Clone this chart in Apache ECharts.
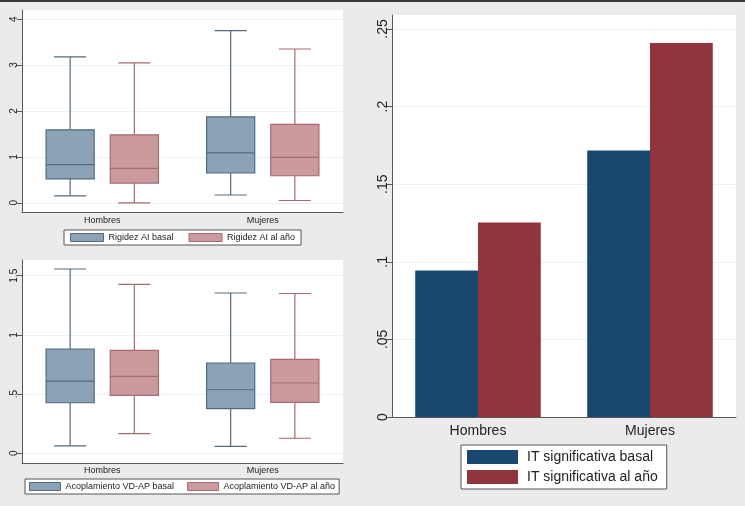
<!DOCTYPE html>
<html><head><meta charset="utf-8">
<script src="https://cdn.jsdelivr.net/npm/echarts@6/dist/echarts.min.js"></script>
<style>html,body{margin:0;padding:0;background:#ebebeb}#c{width:745px;height:506px}</style>
</head><body><div id="c"></div>
<script>
// ---- data ----
const categories = ['Hombres', 'Mujeres'];
// box values: [min, Q1, median, Q3, max]
const rigidezBasal = [[0.15, 0.52, 0.83, 1.59, 3.18], [0.17, 0.65, 1.09, 1.87, 3.75]];
const rigidezAno   = [[0.00, 0.43, 0.75, 1.48, 3.05], [0.05, 0.59, 0.99, 1.71, 3.35]];
const acoplBasal   = [[0.062, 0.427, 0.61, 0.881, 1.557], [0.059, 0.377, 0.537, 0.763, 1.354]];
const acoplAno     = [[0.166, 0.49, 0.65, 0.87, 1.427], [0.127, 0.431, 0.594, 0.794, 1.35]];
const itBasal = [0.0944, 0.1717];
const itAno   = [0.1253, 0.2410];
const rigidezTicks = [0, 1, 2, 3, 4];
const acoplTicks   = [0, 0.5, 1, 1.5];
const itTicks      = [0, 0.05, 0.1, 0.15, 0.2, 0.25];

// ---- styling ----
const FONT = "'Liberation Sans', Arial, Helvetica, sans-serif";
const blueFill = '#8ca3b7', blueStroke = '#536a7f';
const pinkFill = '#cb9a9e', pinkStroke = '#a66a70';
const navy = '#1a476f', maroon = '#90353b';
const axisCol = '#5a5a5a', txtCol = '#222', gridCol = '#edf0f1';

const fmt = v => { const s = String(Math.round(v * 1000) / 1000); return s.replace(/^0\./, '.'); };
const toBoxData = arr => arr.map((b, i) => [i].concat(b));

function boxRender(offsetFrac, fill, stroke) {
  return function (params, api) {
    const cat = api.value(0);
    const band = api.size([1, 0])[0];
    const cx = api.coord([cat, 0])[0] + offsetFrac * band;
    const w = 0.3 * band, capH = 0.1 * band;
    const y = i => api.coord([cat, api.value(i)])[1];
    const yMin = y(1), yQ1 = y(2), yMed = y(3), yQ3 = y(4), yMax = y(5);
    const ls = { stroke: stroke, lineWidth: 1.2, fill: null };
    return { type: 'group', children: [
      { type: 'line', shape: { x1: cx, y1: yMax, x2: cx, y2: yQ3 }, style: ls },
      { type: 'line', shape: { x1: cx, y1: yQ1, x2: cx, y2: yMin }, style: ls },
      { type: 'line', shape: { x1: cx - capH, y1: yMax, x2: cx + capH, y2: yMax }, style: ls },
      { type: 'line', shape: { x1: cx - capH, y1: yMin, x2: cx + capH, y2: yMin }, style: ls },
      { type: 'rect', shape: { x: cx - w / 2, y: yQ3, width: w, height: yQ1 - yQ3 }, style: { fill: fill, stroke: stroke, lineWidth: 1.2 } },
      { type: 'line', shape: { x1: cx - w / 2, y1: yMed, x2: cx + w / 2, y2: yMed }, style: ls }
    ]};
  };
}

function boxSeries(name, data, idx, off, fill, stroke) {
  return {
    name: name, type: 'custom', xAxisIndex: idx, yAxisIndex: idx,
    renderItem: boxRender(off, fill, stroke),
    encode: { x: 0, y: [1, 2, 3, 4, 5] },
    itemStyle: { color: fill },
    data: toBoxData(data)
  };
}

function xAx(idx, fontSize, margin) {
  return {
    type: 'category', gridIndex: idx, data: categories,
    axisTick: { show: false },
    axisLine: { show: true, onZero: false, lineStyle: { color: axisCol, width: 1 } },
    axisLabel: { fontSize: fontSize, color: txtCol, margin: margin, fontFamily: FONT }
  };
}
function yAx(idx, min, max, ticks, fontSize, tickLen, margin) {
  return {
    type: 'value', gridIndex: idx, min: min, max: max,
    axisLine: { show: true, onZero: false, lineStyle: { color: axisCol, width: 1 } },
    axisTick: { show: true, length: tickLen, customValues: ticks, lineStyle: { color: axisCol } },
    axisLabel: { rotate: 90, fontSize: fontSize, color: txtCol, margin: margin, fontFamily: FONT, formatter: fmt, customValues: ticks },
    splitLine: { show: true, lineStyle: { color: gridCol, width: 1 } }
  };
}

const legendItem = (name, fill, stroke) => ({ name: name, icon: 'rect', itemStyle: { color: fill, borderColor: stroke, borderWidth: 1 } });

const chart = echarts.init(document.getElementById('c'));
chart.setOption({
  animation: false,
  backgroundColor: '#ebebeb',
  textStyle: { fontFamily: FONT },
  graphic: [{ type: 'rect', shape: { x: 0, y: 0, width: 745, height: 2 }, style: { fill: '#3a3a3a' }, silent: true }],
  grid: [
    { left: 22, top: 10, width: 321, height: 202, show: true, backgroundColor: '#fff', borderWidth: 0 },
    { left: 22, top: 260, width: 321, height: 203, show: true, backgroundColor: '#fff', borderWidth: 0 },
    { left: 392, top: 15, width: 344, height: 402, show: true, backgroundColor: '#fff', borderWidth: 0 }
  ],
  xAxis: [xAx(0, 9, 4), xAx(1, 9, 3), xAx(2, 14, 7)],
  yAxis: [
    yAx(0, -0.2, 4.2, rigidezTicks, 10, 5, 3),
    yAx(1, -0.082, 1.633, acoplTicks, 10, 5, 3),
    yAx(2, 0, 0.259, itTicks, 14, 6, 2)
  ],
  legend: [
    { left: 64, top: 230, selectedMode: false, itemWidth: 33, itemHeight: 8, itemGap: 15, padding: [3, 6],
      borderColor: '#555', borderWidth: 1, backgroundColor: '#fff', borderRadius: 0,
      textStyle: { fontSize: 9, color: txtCol, fontFamily: FONT },
      data: [legendItem('Rigidez AI basal', blueFill, blueStroke), legendItem('Rigidez AI al año', pinkFill, pinkStroke)] },
    { left: 25, top: 479, selectedMode: false, itemWidth: 31, itemHeight: 8, itemGap: 13, padding: [3, 4],
      borderColor: '#555', borderWidth: 1, backgroundColor: '#fff', borderRadius: 0,
      textStyle: { fontSize: 9, color: txtCol, fontFamily: FONT },
      data: [legendItem('Acoplamiento VD-AP basal', blueFill, blueStroke), legendItem('Acoplamiento VD-AP al año', pinkFill, pinkStroke)] },
    { left: 461, top: 445, orient: 'vertical', selectedMode: false, itemWidth: 51, itemHeight: 14, itemGap: 4, padding: [4, 9, 4, 6],
      borderColor: '#555', borderWidth: 1, backgroundColor: '#fff', borderRadius: 0,
      textStyle: { fontSize: 14, color: txtCol, fontFamily: FONT, lineHeight: 16, padding: [0, 0, 0, 4] },
      data: [{ name: 'IT significativa basal', icon: 'rect', itemStyle: { color: navy } },
             { name: 'IT significativa al año', icon: 'rect', itemStyle: { color: maroon } }] }
  ],
  series: [
    boxSeries('Rigidez AI basal', rigidezBasal, 0, -0.2, blueFill, blueStroke),
    boxSeries('Rigidez AI al año', rigidezAno, 0, 0.2, pinkFill, pinkStroke),
    boxSeries('Acoplamiento VD-AP basal', acoplBasal, 1, -0.2, blueFill, blueStroke),
    boxSeries('Acoplamiento VD-AP al año', acoplAno, 1, 0.2, pinkFill, pinkStroke),
    { name: 'IT significativa basal', type: 'bar', xAxisIndex: 2, yAxisIndex: 2, data: itBasal,
      barGap: '0%', barCategoryGap: '27%', itemStyle: { color: navy } },
    { name: 'IT significativa al año', type: 'bar', xAxisIndex: 2, yAxisIndex: 2, data: itAno,
      barGap: '0%', barCategoryGap: '27%', itemStyle: { color: maroon } }
  ]
});
</script></body></html>
